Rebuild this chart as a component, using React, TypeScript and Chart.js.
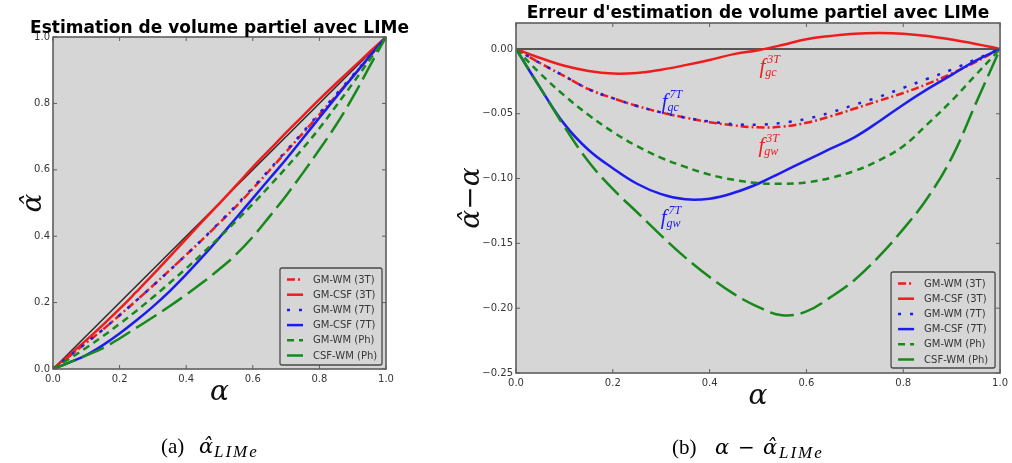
import React, { useEffect, useRef } from 'react';
import { Chart, registerables } from 'chart.js';

Chart.register(...registerables);

// ---------------- data ----------------
const alphaValues = [0, 0.05, 0.1, 0.15, 0.2, 0.25, 0.3, 0.35, 0.4, 0.45, 0.5, 0.55, 0.6, 0.65, 0.7, 0.75, 0.8, 0.85, 0.9, 0.95, 1.0];

const seriesLabels = ['GM-WM (3T)', 'GM-CSF (3T)', 'GM-WM (7T)', 'GM-CSF (7T)', 'GM-WM (Ph)', 'CSF-WM (Ph)'];

// (a) estimated alpha
const estGmWm3T = [0, 0.039, 0.079, 0.119, 0.162, 0.206, 0.251, 0.297, 0.344, 0.391, 0.44, 0.49, 0.543, 0.598, 0.654, 0.71, 0.766, 0.823, 0.881, 0.94, 1.0];
const estGmCsf3T = [0, 0.043, 0.087, 0.133, 0.181, 0.232, 0.284, 0.338, 0.392, 0.446, 0.499, 0.553, 0.608, 0.66, 0.712, 0.762, 0.812, 0.86, 0.907, 0.954, 1.0];
const estGmWm7T = [0, 0.039, 0.079, 0.119, 0.162, 0.206, 0.251, 0.297, 0.344, 0.392, 0.442, 0.493, 0.546, 0.601, 0.657, 0.713, 0.77, 0.827, 0.884, 0.942, 1.0];
const estGmCsf7T = [0, 0.02, 0.042, 0.072, 0.107, 0.146, 0.188, 0.234, 0.285, 0.339, 0.396, 0.455, 0.514, 0.573, 0.632, 0.694, 0.757, 0.819, 0.88, 0.941, 1.0];
const estGmWmPh = [0, 0.031, 0.064, 0.099, 0.136, 0.175, 0.216, 0.259, 0.303, 0.349, 0.397, 0.446, 0.497, 0.551, 0.606, 0.664, 0.725, 0.792, 0.86, 0.93, 1.0];
const estCsfWmPh = [0, 0.02, 0.041, 0.063, 0.092, 0.124, 0.156, 0.189, 0.224, 0.261, 0.301, 0.345, 0.398, 0.459, 0.522, 0.59, 0.661, 0.735, 0.818, 0.91, 1.0];
const identityX = [0, 1];
const identityY = [0, 1];

// (b) estimation error
const errGmWm3T = [0, -0.011, -0.021, -0.031, -0.038, -0.044, -0.049, -0.053, -0.0565, -0.059, -0.0605, -0.06, -0.057, -0.052, -0.046, -0.04, -0.034, -0.027, -0.019, -0.01, 0];
const errGmCsf3T = [0, -0.007, -0.013, -0.017, -0.019, -0.0185, -0.016, -0.0125, -0.0085, -0.004, -0.001, 0.003, 0.0075, 0.01, 0.0118, 0.0123, 0.0118, 0.01, 0.0072, 0.0038, 0];
const errGmWm7T = [0, -0.011, -0.021, -0.031, -0.038, -0.044, -0.049, -0.053, -0.056, -0.058, -0.0585, -0.057, -0.054, -0.049, -0.043, -0.037, -0.03, -0.023, -0.016, -0.008, 0];
const errGmCsf7T = [0, -0.03, -0.058, -0.078, -0.092, -0.104, -0.112, -0.116, -0.1155, -0.111, -0.104, -0.095, -0.086, -0.077, -0.068, -0.056, -0.043, -0.031, -0.02, -0.009, 0];
const errGmWmPh = [0, -0.019, -0.036, -0.051, -0.064, -0.075, -0.084, -0.091, -0.097, -0.101, -0.1035, -0.104, -0.103, -0.0995, -0.094, -0.086, -0.075, -0.058, -0.04, -0.02, 0];
const errCsfWmPh = [0, -0.03, -0.06, -0.087, -0.108, -0.126, -0.144, -0.161, -0.176, -0.189, -0.199, -0.2055, -0.2025, -0.1915, -0.178, -0.16, -0.139, -0.115, -0.084, -0.042, 0];
const zeroX = [0, 1];
const zeroY = [0, 0];

const xTickValues = [0, 0.2, 0.4, 0.6, 0.8, 1.0];
const estTickValues = [0, 0.2, 0.4, 0.6, 0.8, 1.0];
const errTickValues = [-0.25, -0.2, -0.15, -0.1, -0.05, 0];

// ---------------- styles ----------------
const RED = '#ee1c1c';
const BLUE = '#1c1cee';
const GREEN = '#17881a';
const PLOT_BG = '#d6d6d6';
const FRAME = '#5e5e5e';
const TICK_TEXT = '#363636';

const seriesStyles = [
  { color: RED, dash: [8, 3, 2, 3] },
  { color: RED, dash: [] as number[] },
  { color: BLUE, dash: [3, 9] },
  { color: BLUE, dash: [] as number[] },
  { color: GREEN, dash: [7, 5] },
  { color: GREEN, dash: [24, 7] },
];

const fmtMinus = (v: number, d: number) => (v < -1e-9 ? '\u2212' + Math.abs(v).toFixed(d) : Math.abs(v).toFixed(d));

function buildDatasets(series: number[][], refX: number[], refY: number[]) {
  const ds: any[] = series.map((vals, i) => ({
    label: seriesLabels[i],
    data: alphaValues.map((a, k) => ({ x: a, y: vals[k] })),
    borderColor: seriesStyles[i].color,
    backgroundColor: seriesStyles[i].color,
    borderWidth: 2.5,
    borderDash: seriesStyles[i].dash,
    borderCapStyle: 'butt',
    pointRadius: 0,
    tension: 0.4,
    fill: false,
    order: 10 - i,
  }));
  ds.push({
    label: '',
    data: refX.map((x, k) => ({ x, y: refY[k] })),
    borderColor: '#2a2a2a',
    borderWidth: 1.5,
    pointRadius: 0,
    fill: false,
    order: 100,
  });
  return ds;
}

type Annot = { x: number; y: number; sup: string; sub: string; color: string };
type Caption = { text: string; x: number; y: number; font: string; spacing?: string };
type DecorCfg = {
  title: string;
  titleGap: number;
  xLabel: string;
  xLabelGap: number;
  yLabel: string;
  yLabelGap: number;
  legendW: number;
  legendH: number;
  legendInset: number;
  yTicks: number[];
  annotations: Annot[];
  captions: Caption[];
};

function makeDecor(cfg: DecorCfg) {
  return {
    id: 'decor',
    beforeDraw(chart: any) {
      const { ctx, chartArea: a } = chart;
      ctx.save();
      ctx.fillStyle = PLOT_BG;
      ctx.fillRect(a.left, a.top, a.right - a.left, a.bottom - a.top);
      ctx.restore();
    },
    afterDatasetsDraw(chart: any) {
      const { ctx, chartArea: a, scales } = chart;
      const xs = scales.x;
      const ys = scales.y;
      ctx.save();
      // annotations
      for (const an of cfg.annotations) {
        const px = xs.getPixelForValue(an.x);
        const py = ys.getPixelForValue(an.y);
        ctx.fillStyle = an.color;
        ctx.textAlign = 'left';
        ctx.textBaseline = 'alphabetic';
        ctx.font = 'italic 21px "Liberation Serif"';
        ctx.fillText('f', px, py);
        const w = ctx.measureText('f').width + 1;
        ctx.font = 'italic 12px "Liberation Serif"';
        ctx.fillText(an.sup, px + w + 1, py - 10);
        ctx.fillText(an.sub, px + w - 1, py + 3);
      }
      // frame
      ctx.strokeStyle = FRAME;
      ctx.lineWidth = 1.6;
      ctx.strokeRect(a.left, a.top, a.right - a.left, a.bottom - a.top);
      // inward ticks
      ctx.lineWidth = 1;
      ctx.beginPath();
      for (const v of xTickValues) {
        const p = xs.getPixelForValue(v);
        ctx.moveTo(p, a.bottom);
        ctx.lineTo(p, a.bottom - 4);
        ctx.moveTo(p, a.top);
        ctx.lineTo(p, a.top + 4);
      }
      for (const v of cfg.yTicks) {
        const p = ys.getPixelForValue(v);
        ctx.moveTo(a.left, p);
        ctx.lineTo(a.left + 4, p);
        ctx.moveTo(a.right, p);
        ctx.lineTo(a.right - 4, p);
      }
      ctx.stroke();
      // legend
      const lx = a.right - cfg.legendInset - cfg.legendW;
      const ly = a.bottom - cfg.legendInset - cfg.legendH;
      ctx.fillStyle = PLOT_BG;
      ctx.strokeStyle = '#4a4a4a';
      ctx.lineWidth = 1.3;
      ctx.beginPath();
      ctx.roundRect(lx, ly, cfg.legendW, cfg.legendH, 2);
      ctx.fill();
      ctx.stroke();
      seriesLabels.forEach((lab, i) => {
        const cy = ly + 11.5 + i * 15.2;
        ctx.strokeStyle = seriesStyles[i].color;
        ctx.lineWidth = 2.5;
        ctx.lineCap = 'butt';
        ctx.setLineDash(seriesStyles[i].dash);
        ctx.beginPath();
        ctx.moveTo(lx + 7, cy);
        ctx.lineTo(lx + 23, cy);
        ctx.stroke();
        ctx.setLineDash([]);
        ctx.fillStyle = TICK_TEXT;
        ctx.font = '10px "DejaVu Sans"';
        ctx.textAlign = 'left';
        ctx.textBaseline = 'middle';
        ctx.fillText(lab, lx + 33, cy + 0.5);
      });
      // title
      const cx = (a.left + a.right) / 2;
      ctx.fillStyle = '#000';
      ctx.textAlign = 'center';
      ctx.textBaseline = 'alphabetic';
      ctx.font = 'bold 17px "DejaVu Sans"';
      ctx.fillText(cfg.title, cx, a.top - cfg.titleGap);
      // axis labels
      ctx.fillStyle = '#111';
      ctx.font = 'italic 28px "DejaVu Serif"';
      ctx.fillText(cfg.xLabel, cx, a.bottom + cfg.xLabelGap);
      ctx.save();
      ctx.translate(a.left - cfg.yLabelGap, (a.top + a.bottom) / 2);
      ctx.rotate(-Math.PI / 2);
      ctx.fillText(cfg.yLabel, 0, 0);
      ctx.restore();
      // captions
      ctx.fillStyle = '#000';
      ctx.textAlign = 'left';
      for (const c of cfg.captions) {
        ctx.font = c.font;
        (ctx as any).letterSpacing = c.spacing || '0px';
        ctx.fillText(c.text, c.x, c.y);
      }
      (ctx as any).letterSpacing = '0px';
      ctx.restore();
    },
  };
}

function makeConfig(opts: {
  series: number[][];
  refX: number[];
  refY: number[];
  yMin: number;
  yMax: number;
  yTicks: number[];
  yDigits: number;
  yWidth: number;
  padding: { left: number; right: number; top: number; bottom: number };
  decor: DecorCfg;
}): any {
  const tickFont = { family: '"DejaVu Sans"', size: 10 };
  return {
    type: 'line',
    data: { datasets: buildDatasets(opts.series, opts.refX, opts.refY) },
    options: {
      responsive: false,
      animation: false,
      events: [],
      layout: { padding: opts.padding },
      plugins: { legend: { display: false }, title: { display: false }, tooltip: { enabled: false } },
      scales: {
        x: {
          type: 'linear',
          min: 0,
          max: 1,
          grid: { display: false, drawTicks: false },
          border: { display: false },
          afterBuildTicks: (s: any) => {
            s.ticks = xTickValues.map((v) => ({ value: v }));
          },
          afterFit: (s: any) => {
            s.height = 30;
          },
          ticks: {
            padding: 4,
            color: TICK_TEXT,
            font: tickFont,
            maxRotation: 0,
            autoSkip: false,
            callback: (v: number) => fmtMinus(v, 1),
          },
        },
        y: {
          type: 'linear',
          min: opts.yMin,
          max: opts.yMax,
          grid: { display: false, drawTicks: false },
          border: { display: false },
          afterBuildTicks: (s: any) => {
            s.ticks = opts.yTicks.map((v) => ({ value: v }));
          },
          afterFit: (s: any) => {
            s.width = opts.yWidth;
          },
          ticks: {
            padding: 3,
            color: TICK_TEXT,
            font: tickFont,
            autoSkip: false,
            callback: (v: number) => fmtMinus(v, opts.yDigits),
          },
        },
      },
    },
    plugins: [makeDecor(opts.decor)],
  };
}

function ChartCanvas(props: { left: number; width: number; height: number; build: () => any }) {
  const ref = useRef<HTMLCanvasElement>(null);
  useEffect(() => {
    const chart = new Chart(ref.current as HTMLCanvasElement, props.build());
    return () => chart.destroy();
  }, []);
  return (
    <canvas
      ref={ref}
      width={props.width}
      height={props.height}
      style={{ position: 'absolute', left: props.left, top: 0, width: props.width, height: props.height }}
    />
  );
}

const buildLeft = () =>
  makeConfig({
    series: [estGmWm3T, estGmCsf3T, estGmWm7T, estGmCsf7T, estGmWmPh, estCsfWmPh],
    refX: identityX,
    refY: identityY,
    yMin: 0,
    yMax: 1,
    yTicks: estTickValues,
    yDigits: 1,
    yWidth: 53,
    padding: { left: 0, right: 34, top: 37, bottom: 64 },
    decor: {
      title: 'Estimation de volume partiel avec LIMe',
      titleGap: 4,
      xLabel: '\u03b1',
      xLabelGap: 31,
      yLabel: '\u03b1\u0302',
      yLabelGap: 12,
      legendW: 102,
      legendH: 97,
      legendInset: 4,
      yTicks: estTickValues,
      annotations: [],
      captions: [
        { text: '(a)', x: 161, y: 453, font: '21px "Liberation Serif"' },
        { text: '\u03b1\u0302', x: 199, y: 453, font: 'italic 21px "DejaVu Serif"' },
        { text: 'LIMe', x: 214, y: 457, font: 'italic 17px "Liberation Serif"', spacing: '2px' },
      ],
    },
  });

const buildRight = () =>
  makeConfig({
    series: [errGmWm3T, errGmCsf3T, errGmWm7T, errGmCsf7T, errGmWmPh, errCsfWmPh],
    refX: zeroX,
    refY: zeroY,
    yMin: -0.25,
    yMax: 0.02,
    yTicks: errTickValues,
    yDigits: 2,
    yWidth: 96,
    padding: { left: 0, right: 11, top: 23, bottom: 60 },
    decor: {
      title: "Erreur d'estimation de volume partiel avec LIMe",
      titleGap: 5,
      xLabel: '\u03b1',
      xLabelGap: 31,
      yLabel: '\u03b1\u0302\u2212\u03b1',
      yLabelGap: 37,
      legendW: 104,
      legendH: 96,
      legendInset: 5,
      yTicks: errTickValues,
      annotations: [
        { x: 0.503, y: -0.0185, sup: '3T', sub: 'gc', color: RED },
        { x: 0.301, y: -0.0455, sup: '7T', sub: 'gc', color: BLUE },
        { x: 0.501, y: -0.0795, sup: '3T', sub: 'gw', color: RED },
        { x: 0.299, y: -0.135, sup: '7T', sub: 'gw', color: BLUE },
      ],
      captions: [
        { text: '(b)', x: 252, y: 454, font: '21px "Liberation Serif"' },
        { text: '\u03b1', x: 295, y: 454, font: 'italic 21px "DejaVu Serif"' },
        { text: '\u2212', x: 318, y: 454, font: '20px "DejaVu Serif"' },
        { text: '\u03b1\u0302', x: 343, y: 454, font: 'italic 21px "DejaVu Serif"' },
        { text: 'LIMe', x: 359, y: 458, font: 'italic 17px "Liberation Serif"', spacing: '2px' },
      ],
    },
  });

export default function App() {
  return (
    <div style={{ position: 'absolute', left: 0, top: 0, width: 1012, height: 463, background: '#fff', overflow: 'hidden' }}>
      <ChartCanvas left={0} width={420} height={463} build={buildLeft} />
      <ChartCanvas left={420} width={592} height={463} build={buildRight} />
    </div>
  );
}
